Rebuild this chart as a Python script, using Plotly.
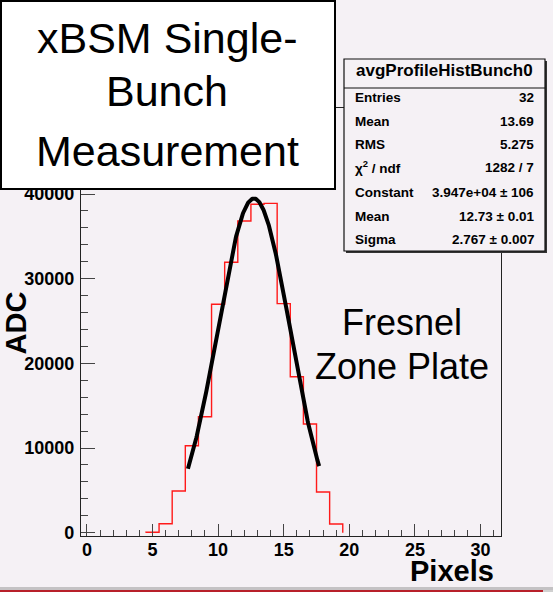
import numpy as np
import plotly.graph_objects as go

# Averaged single-bunch profile (ADC counts per pixel bin)
bin_centers = list(range(5, 20))
adc_counts = [60, 1060, 4920, 10270, 13700, 26980, 31940, 36810,
              38790, 38900, 27050, 18420, 12840, 4810, 1030]

# Gaussian fit results and its drawing range
fit_constant = 3.947e4
fit_mean = 12.73
fit_sigma = 2.767
fit_range = [7.7, 17.7]

# Axis ticks
x_ticks = [0, 5, 10, 15, 20, 25, 30]
y_ticks = [0, 10000, 20000, 30000, 40000]

# Statistics box contents
stats_title = "avgProfileHistBunch0"
stat_labels = ["Entries", "Mean", "RMS", "χ<sup>2</sup> / ndf", "Constant", "Mean", "Sigma"]
stat_values = ["32", "13.69", "5.275", "1282 / 7", "3.947e+04 ± 106", "12.73 ± 0.01", "2.767 ± 0.007"]

title_lines = ["xBSM Single-", "Bunch", "Measurement"]
device_lines = ["Fresnel", "Zone Plate"]
x_title = "Pixels"
y_title = "ADC"

# ---- page geometry (pixels) ----
W_PX, H_PX = 553, 592
L, T, PW, PH = 81, 108, 420, 428
BG = "#f5f1f5"


def px(x):
    return (x - L) / PW


def py(y):
    return (T + PH - y) / PH


# step outline of the histogram built from bin edges
edges = [c - 0.5 for c in bin_centers] + [bin_centers[-1] + 0.5]
hist_x = [edges[0]] + edges
hist_y = [0] + adc_counts + [0]

fit_x = np.linspace(fit_range[0], fit_range[1], 300)
fit_y = fit_constant * np.exp(-0.5 * ((fit_x - fit_mean) / fit_sigma) ** 2)

fig = go.Figure()
fig.add_trace(go.Scatter(x=hist_x, y=hist_y, mode="lines", line_shape="hv",
                         line=dict(color="#ff1a1a", width=1.4), hoverinfo="skip"))
fig.add_trace(go.Scatter(x=fit_x, y=fit_y, mode="lines",
                         line=dict(color="black", width=4), hoverinfo="skip"))

reg = "Liberation Sans, Arial, sans-serif"
tick_font = dict(family=reg, size=18, color="black")

fig.update_layout(
    width=W_PX, height=H_PX,
    margin=dict(l=L, r=W_PX - L - PW, t=T, b=H_PX - T - PH, pad=0),
    paper_bgcolor=BG, plot_bgcolor=BG,
    showlegend=False,
    xaxis=dict(range=[-0.45, 31.56], tickmode="array", tickvals=x_ticks,
               ticktext=[f"<b>{v}</b>" for v in x_ticks],
               ticks="inside", ticklen=12, tickwidth=1.2, tickcolor="#444",
               minor=dict(ticks="inside", tickmode="linear", tick0=0, dtick=1,
                          ticklen=6, tickwidth=1.2, tickcolor="#444"),
               showline=True, linecolor="#222", linewidth=1.3, mirror=True,
               showgrid=False, zeroline=False, tickfont=tick_font, ticklabelstandoff=-3),
    yaxis=dict(range=[-390, 50160], tickmode="array", tickvals=y_ticks,
               ticktext=[f"<b>{v}</b>" for v in y_ticks],
               ticks="inside", ticklen=14, tickwidth=1.2, tickcolor="#444",
               minor=dict(ticks="inside", tickmode="linear", tick0=0, dtick=2000,
                          ticklen=7, tickwidth=1.2, tickcolor="#444"),
               showline=True, linecolor="#222", linewidth=1.3, mirror=True,
               showgrid=False, zeroline=False, tickfont=tick_font, ticklabelstandoff=2),
)

shapes = []
# title box
shapes.append(dict(type="rect", xref="paper", yref="paper", layer="above",
                   x0=px(1), x1=px(335), y0=py(189), y1=py(1),
                   fillcolor="white", line=dict(color="black", width=2)))
# statistics box with shadow
shapes.append(dict(type="rect", xref="paper", yref="paper", layer="above",
                   x0=px(346), x1=px(547), y0=py(253), y1=py(61),
                   fillcolor="#333", line=dict(width=0)))
shapes.append(dict(type="rect", xref="paper", yref="paper", layer="above",
                   x0=px(344), x1=px(545), y0=py(251), y1=py(59),
                   fillcolor=BG, line=dict(color="#111", width=1.2)))
shapes.append(dict(type="line", xref="paper", yref="paper", layer="above",
                   x0=px(344), x1=px(545), y0=py(88), y1=py(88),
                   line=dict(color="#111", width=1.2)))
# footer strips
shapes.append(dict(type="rect", xref="paper", yref="paper", layer="above",
                   x0=px(0), x1=px(553), y0=py(590), y1=py(587),
                   fillcolor="#c4c2c4", line=dict(width=0)))
shapes.append(dict(type="rect", xref="paper", yref="paper", layer="above",
                   x0=px(0), x1=px(543), y0=py(592), y1=py(590),
                   fillcolor="#b8202a", line=dict(width=0)))
shapes.append(dict(type="rect", xref="paper", yref="paper", layer="above",
                   x0=px(543), x1=px(553), y0=py(592), y1=py(590),
                   fillcolor="#d0d0d0", line=dict(width=0)))
fig.update_layout(shapes=shapes)

ann = []
for text, yc in zip(title_lines, [37.5, 91, 151]):
    ann.append(dict(text=text, x=px(167), y=py(yc), xref="paper", yref="paper",
                    xanchor="center", yanchor="middle", showarrow=False,
                    font=dict(family=reg, size=43, color="black")))
for text, yc in zip(device_lines, [322, 366]):
    ann.append(dict(text=text, x=px(402), y=py(yc), xref="paper", yref="paper",
                    xanchor="center", yanchor="middle", showarrow=False,
                    font=dict(family=reg, size=36, color="black")))
ann.append(dict(text=f"<b>{stats_title}</b>", x=px(444.5), y=py(71), xref="paper", yref="paper",
                xanchor="center", yanchor="middle", showarrow=False,
                font=dict(family=reg, size=17, color="black")))
row_y = [97.5, 121, 144.5, 167.5, 192.5, 217, 239.5]
for lab, val, yc in zip(stat_labels, stat_values, row_y):
    ann.append(dict(text=f"<b>{lab}</b>", x=px(353), y=py(yc), xref="paper", yref="paper",
                    xanchor="left", yanchor="middle", showarrow=False,
                    font=dict(family=reg, size=13.5, color="black")))
    ann.append(dict(text=f"<b>{val}</b>", x=px(536), y=py(yc), xref="paper", yref="paper",
                    xanchor="right", yanchor="middle", showarrow=False,
                    font=dict(family=reg, size=13.5, color="black")))
ann.append(dict(text=f"<b>{x_title}</b>", x=px(496), y=py(571), xref="paper", yref="paper",
                xanchor="right", yanchor="middle", showarrow=False,
                font=dict(family=reg, size=29, color="black")))
ann.append(dict(text=f"<b>{y_title}</b>", x=px(15), y=py(323.5), xref="paper", yref="paper",
                xanchor="center", yanchor="middle", showarrow=False, textangle=-90,
                font=dict(family=reg, size=29, color="black")))
fig.update_layout(annotations=ann)

fig.write_html("out.html")
